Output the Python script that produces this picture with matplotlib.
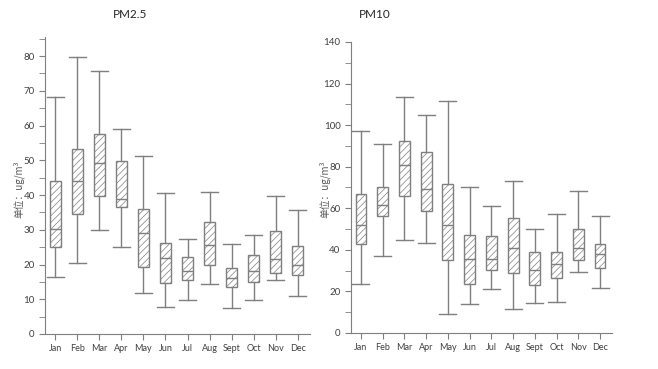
import matplotlib
matplotlib.use("Agg")
import matplotlib.pyplot as plt

plt.rcParams['font.family'] = ['Lato', 'Noto Sans CJK SC', 'DejaVu Sans']
plt.rcParams['hatch.color'] = '#c0c0c0'
plt.rcParams['hatch.linewidth'] = 0.5

months = ["Jan", "Feb", "Mar", "Apr", "May", "Jun", "Jul", "Aug", "Sept", "Oct", "Nov", "Dec"]

# PM2.5: whisker low, Q1, median, Q3, whisker high
pm25_low = [16.4, 20.4, 29.9, 25.1, 11.9, 7.9, 9.9, 14.4, 7.5, 9.8, 15.5, 10.9]
pm25_q1 = [25.0, 34.4, 39.6, 36.7, 19.2, 14.6, 15.5, 20.0, 13.5, 14.9, 17.6, 16.9]
pm25_med = [30.1, 44.1, 49.1, 38.9, 29.1, 21.8, 18.1, 25.7, 16.2, 18.1, 21.7, 19.8]
pm25_q3 = [44.1, 53.4, 57.5, 49.7, 35.9, 26.1, 22.2, 32.3, 19.0, 22.8, 29.6, 25.4]
pm25_high = [68.3, 79.7, 75.6, 59.0, 51.2, 40.7, 27.4, 40.9, 26.0, 28.5, 39.7, 35.8]

# PM10
pm10_low = [23.5, 37.0, 44.6, 43.4, 9.3, 13.9, 21.4, 11.5, 14.6, 14.9, 29.3, 21.8]
pm10_q1 = [42.7, 56.2, 65.8, 58.7, 35.2, 23.4, 30.2, 29.1, 23.0, 26.4, 35.2, 31.2]
pm10_med = [51.8, 61.4, 80.6, 69.1, 51.8, 35.8, 35.5, 40.8, 30.1, 33.3, 40.8, 37.9]
pm10_q3 = [67.0, 70.1, 92.2, 87.0, 71.8, 47.2, 46.6, 55.5, 39.0, 39.0, 50.2, 42.7]
pm10_high = [97.1, 91.0, 113.3, 105.1, 111.5, 70.1, 61.0, 73.3, 49.9, 57.1, 68.2, 56.3]

EDGE = "#7f7f7f"
TXT = "#404040"


def draw_panel(ax, low, q1, med, q3, high, ymax, major, minor):
    stats = []
    for m, lo, a, md, b, hi in zip(months, low, q1, med, q3, high):
        stats.append(dict(label=m, whislo=lo, q1=a, med=md, q3=b, whishi=hi, fliers=[]))
    bp = ax.bxp(stats, widths=0.5, capwidths=0.78, patch_artist=True, showfliers=False,
                boxprops=dict(facecolor="white", edgecolor=EDGE, linewidth=1.0),
                medianprops=dict(color=EDGE, linewidth=1.0),
                whiskerprops=dict(color=EDGE, linewidth=1.0),
                capprops=dict(color=EDGE, linewidth=1.0))
    for b in bp["boxes"]:
        b.set_hatch("/////")
    ax.set_xlim(0.54, 12.55)
    ax.set_ylim(0, ymax)
    ax.set_yticks(range(0, int(ymax) + 1, major))
    ax.set_yticks(range(0, int(ymax) + 1, minor), minor=True)
    for s in ["top", "right"]:
        ax.spines[s].set_visible(False)
    for s in ["left", "bottom"]:
        ax.spines[s].set_color(EDGE)
    ax.tick_params(axis="both", which="both", colors=EDGE, labelcolor=TXT, labelsize=7, length=4)
    ax.tick_params(axis="x", labelsize=6.5)


fig = plt.figure(figsize=(6.58, 3.69), dpi=100)
ax1 = fig.add_axes([0.0684, 0.0949, 0.4027, 0.8048])
ax2 = fig.add_axes([0.5334, 0.0976, 0.3967, 0.7886])

draw_panel(ax1, pm25_low, pm25_q1, pm25_med, pm25_q3, pm25_high, 85.5, 10, 5)
draw_panel(ax2, pm10_low, pm10_q1, pm10_med, pm10_q3, pm10_high, 140, 20, 10)

fig.text(0.198, 0.962, "PM2.5", ha="center", va="center", fontsize=8.5, color="#262626")
fig.text(0.570, 0.962, "PM10", ha="center", va="center", fontsize=8.5, color="#262626")

ylab = "单位：ug/m³"
cjk = ["Noto Sans CJK SC", "DejaVu Sans"]
fig.text(0.029, 0.488, ylab, rotation=90, ha="center", va="center", fontsize=7,
         color="#595959", family=cjk)
fig.text(0.494, 0.488, ylab, rotation=90, ha="center", va="center", fontsize=7,
         color="#595959", family=cjk)

fig.savefig("out.png", dpi=100)
